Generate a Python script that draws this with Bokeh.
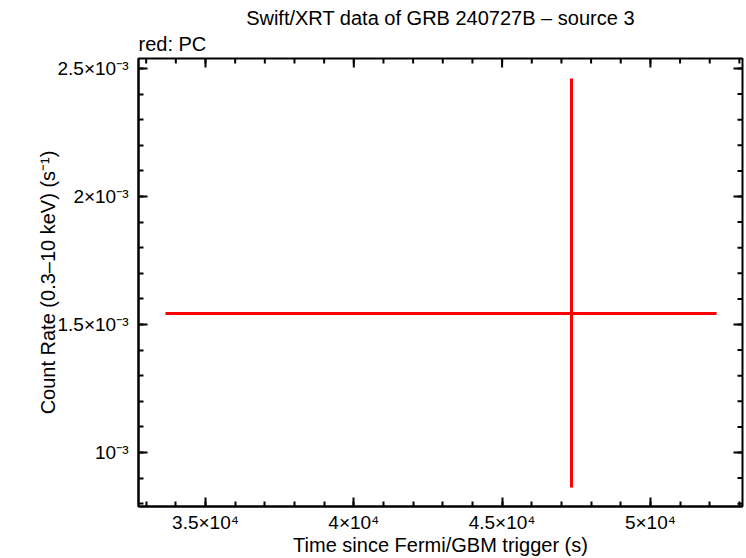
import math
from bokeh.plotting import figure
from bokeh.models import (ColumnDataSource, Range1d, FixedTicker,
                          CustomJSTickFormatter, Title)
from bokeh.embed import file_html
from bokeh.resources import INLINE

# ---- data ----
t_mid = [47340.0]
t_lo = [33650.0]
t_hi = [52230.0]
rate = [1.543e-3]
rate_lo = [0.863e-3]
rate_hi = [2.461e-3]

x_major = [35000, 40000, 45000, 50000]
x_minor = list(range(33000, 53001, 1000))
y_major = [1.0e-3, 1.5e-3, 2.0e-3, 2.5e-3]
y_minor = [round(0.8e-3 + i * 1e-4, 6) for i in range(18)]

x_start, x_end = 32741, 53105
y_start, y_end = 0.789e-3, 2.539e-3

title_text = "Swift/XRT data of GRB 240727B \u2013 source 3"
subtitle_text = "red: PC"
x_label = "Time since Fermi/GBM trigger (s)"
y_label = "Count Rate (0.3\u201310 keV) (s\u207b\u00b9)"

FONT = "Liberation Sans"

fmt_code = """
const e = Math.floor(Math.log10(Math.abs(tick)) + 1e-9);
let m = tick / Math.pow(10, e);
m = Math.round(m * 100) / 100;
const sup = {'-':'\u207b','0':'\u2070','1':'\u00b9','2':'\u00b2','3':'\u00b3','4':'\u2074','5':'\u2075','6':'\u2076','7':'\u2077','8':'\u2078','9':'\u2079'};
const es = String(e).split('').map(c => sup[c]).join('');
if (m == 1) return '10' + es;
return m + '\u00d710' + es;
"""

src = ColumnDataSource(dict(t=t_mid, tlo=t_lo, thi=t_hi, r=rate, rlo=rate_lo, rhi=rate_hi))

p = figure(width=744, height=558, output_backend="svg", toolbar_location=None,
           x_range=Range1d(x_start, x_end), y_range=Range1d(y_start, y_end),
           min_border_left=138, min_border_right=2, min_border_top=58, min_border_bottom=52,
           x_axis_label=x_label, y_axis_label=y_label)
p.grid.visible = False
p.outline_line_color = "black"
p.outline_line_width = 2
p.background_fill_color = "white"
p.border_fill_color = "white"

p.segment(x0="tlo", x1="thi", y0="r", y1="r", source=src, line_color="red", line_width=3)
p.segment(x0="t", x1="t", y0="rlo", y1="rhi", source=src, line_color="red", line_width=3)

# mirrored inward ticks on top and right edges
p.ray(x=x_major, y=[y_end] * len(x_major), length=9, length_units="screen",
      angle=-math.pi / 2, line_color="black", line_width=2)
p.ray(x=x_minor, y=[y_end] * len(x_minor), length=5, length_units="screen",
      angle=-math.pi / 2, line_color="black", line_width=2)
p.ray(x=[x_end] * len(y_major), y=y_major, length=9, length_units="screen",
      angle=math.pi, line_color="black", line_width=2)
p.ray(x=[x_end] * len(y_minor), y=y_minor, length=5, length_units="screen",
      angle=math.pi, line_color="black", line_width=2)

fmt = CustomJSTickFormatter(code=fmt_code)

def style(ax):
    ax.axis_line_width = 2
    ax.major_tick_line_width = 2
    ax.minor_tick_line_width = 2
    ax.major_tick_in = 9
    ax.major_tick_out = 0
    ax.minor_tick_in = 5
    ax.minor_tick_out = 0
    ax.major_label_text_font = FONT
    ax.major_label_text_font_size = "19px"
    ax.major_label_text_color = "black"
    ax.axis_label_text_font = FONT
    ax.axis_label_text_font_size = "20px"
    ax.axis_label_text_font_style = "normal"
    ax.axis_label_text_color = "black"

xa = p.xaxis[0]
xa.ticker = FixedTicker(ticks=x_major, minor_ticks=x_minor)
xa.formatter = fmt
style(xa)
xa.major_label_standoff = 5
xa.axis_label_standoff = -2

ya = p.yaxis[0]
ya.ticker = FixedTicker(ticks=y_major, minor_ticks=y_minor)
ya.formatter = fmt
style(ya)
ya.major_label_standoff = 10
ya.axis_label_standoff = -4

sub = Title(text=subtitle_text, align="left", text_font=FONT, text_font_size="20px",
            text_font_style="normal", text_color="black", offset=0, standoff=7)
p.add_layout(sub, "above")
main = Title(text=title_text, align="center", text_font=FONT, text_font_size="20px",
             text_font_style="normal", text_color="black", standoff=-3)
p.add_layout(main, "above")

open("out.html", "w").write(file_html(p, INLINE))
